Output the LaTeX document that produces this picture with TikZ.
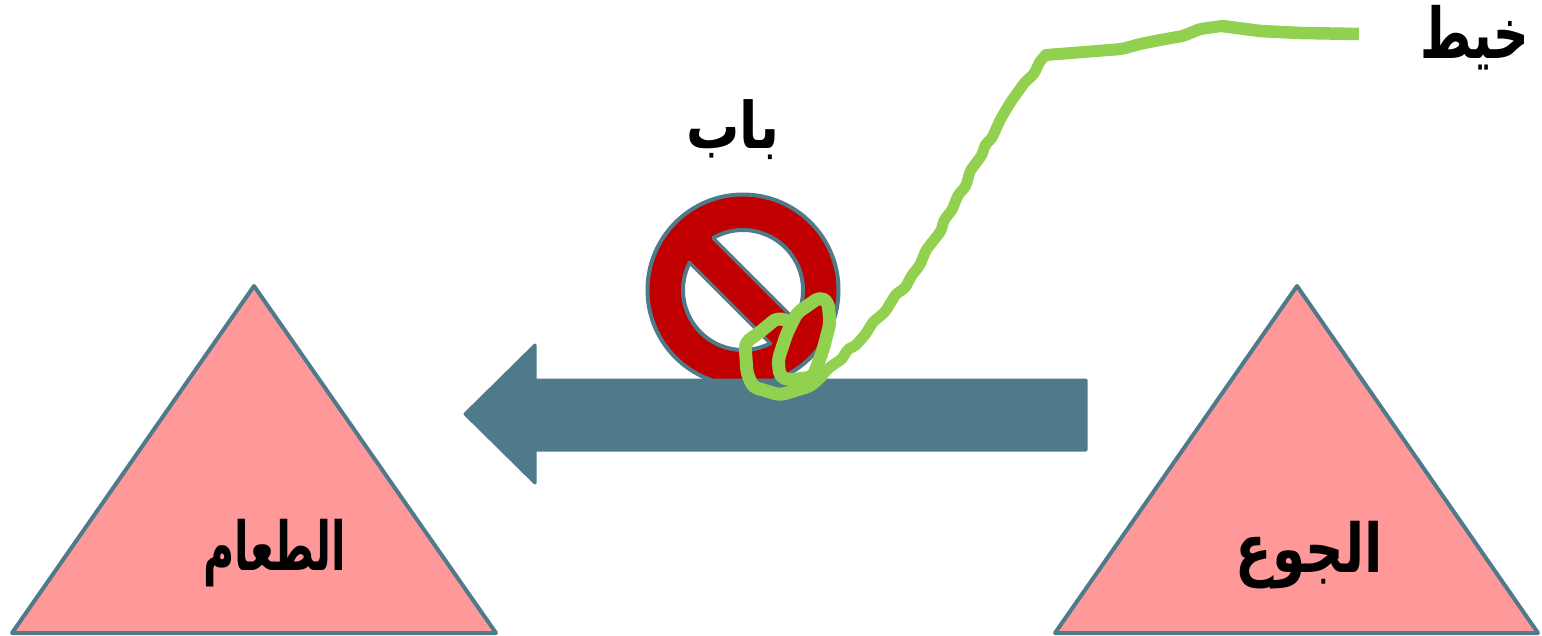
\documentclass[tikz,border=0pt]{standalone}
\usepackage{graphicx}
\usepackage{fontspec}
\TeXXeTstate=1
\newfontfamily\arabicfont[Script=Arabic]{DejaVu Sans}
\definecolor{slate}{HTML}{4F7A8A}
\definecolor{pinkfill}{HTML}{FF9999}
\definecolor{noRed}{HTML}{C00000}
\definecolor{threadGreen}{HTML}{92D050}
\tikzset{
  tri/.style={draw=slate,fill=pinkfill,line width=4pt,line join=round},
  label/.style={inner sep=0pt,text=black},
  thread/.style={draw=threadGreen,line join=round,line cap=round,rounded corners=3pt}
}
\newcommand{\artext}[4]{\scalebox{#2}[#3]{\arabicfont\bfseries\fontsize{#1}{60}\selectfont\beginR #4\endR}}
\begin{document}
\begin{tikzpicture}[x=1pt,y=-1pt]
\useasboundingbox (0,0) rectangle (1542,636);
\draw[tri] (254,286) -- (496,633) -- (12,633) -- cycle;
\draw[tri] (1297,286) -- (1538,633) -- (1055,633) -- cycle;
% prohibition sign
\draw[fill=noRed,draw=slate,line width=4pt] (743,290) circle (95.5);
\draw[fill=white,draw=slate,line width=4pt] (743,290) circle (60);
\fill[noRed] (710,235) -- (798,323) -- (774,347) -- (686,259) -- cycle;
\draw[slate,line width=3.5pt,line cap=round] (713,238) -- (795,320);
\draw[slate,line width=3.5pt,line cap=round] (689,262) -- (771,344);
% arrow
\draw[fill=slate,draw=slate,line width=3pt,line join=round]
  (1086,380) -- (535,380) -- (535,345) -- (465,414) -- (535,483) -- (535,450) -- (1086,450) -- cycle;
% thread
\draw[thread,line width=12.5pt,line cap=butt] (1359,34) -- (1300,33) -- (1260,31) -- (1222,26);
\draw[thread,line width=12pt] (1222,26) -- (1200,29) -- (1183,36) -- (1160,40) -- (1140,44) -- (1122,49) -- (1046,55);
\draw[thread,line width=11pt] (1046,55) -- (1040,61) -- (1034,74) -- (1025,82) -- (1010,103) -- (1000,120) -- (992,138) -- (985,145) -- (982,155) -- (970,171) -- (966,186) -- (958,195) -- (952,210) -- (944,220) -- (941,231) -- (926,250) -- (920,265) -- (912,275) -- (905,288) -- (896,294) -- (885,312) -- (873,322) -- (865,335) -- (855,346) -- (848,349) -- (842,359) -- (830,367) -- (821,376);
\draw[thread,line width=13pt,rounded corners=5pt] (821,376) -- (810,386) -- (780,395) -- (753,387) -- (747,373) -- (745,343) -- (760,332) -- (777,318) -- (785,320);
\draw[thread,line width=13pt,rounded corners=5pt] (820,297) -- (828,302) -- (830,323) -- (823,350) -- (813,377) -- (790,380) -- (780,377) -- (778,360) -- (787,333) -- (797,313) -- cycle;
% labels
\node[label] (bab) at (733,130) {\artext{56}{0.95}{1.15}{باب}};
\node[label] (khayt) at (1475,38) {\artext{56}{0.88}{1.25}{خيط}};
\node[label] (food) at (275,553) {\artext{50}{0.85}{1.35}{الطعام}};
\node[label] (hunger) at (1309,555) {\artext{50}{1.07}{1.35}{الجوع}};
\end{tikzpicture}
\end{document}
